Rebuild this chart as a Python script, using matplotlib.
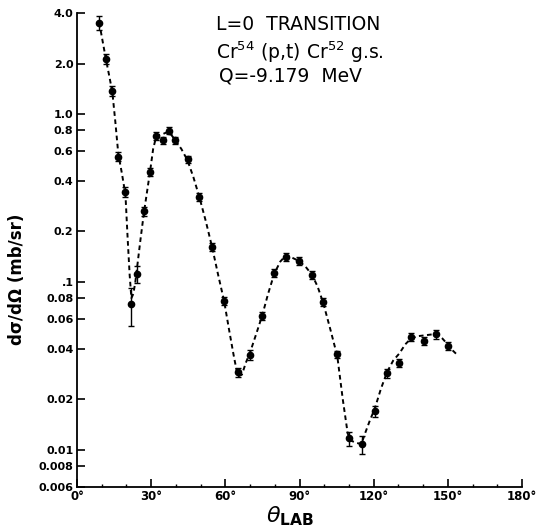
import matplotlib as mpl
mpl.use('Agg')
import matplotlib.pyplot as plt
from matplotlib.ticker import FixedLocator, NullLocator

# measured points: angle (deg), cross section (mb/sr), error
theta = [9.0, 11.7, 14.3, 16.7, 19.6, 21.9, 24.4, 27.1, 29.6, 32.0, 34.7, 37.2,
         39.7, 44.7, 49.5, 54.7, 59.5, 65.2, 70.0, 74.9, 79.8, 84.6, 89.9, 95.1,
         99.6, 105.3, 110.1, 115.3, 120.4, 125.4, 130.4, 135.1, 140.4, 145.3, 150.2]
sigma = [3.50, 2.13, 1.37, 0.557, 0.344, 0.0734, 0.111, 0.264, 0.453, 0.74, 0.70, 0.796,
         0.70, 0.537, 0.321, 0.161, 0.0769, 0.029, 0.0366, 0.0625, 0.113, 0.141, 0.133, 0.110,
         0.0759, 0.0370, 0.0117, 0.0108, 0.0170, 0.0285, 0.0330, 0.0470, 0.0446, 0.0487, 0.0415]
err = [0.35, 0.15, 0.09, 0.035, 0.025, 0.0185, 0.013, 0.016, 0.025, 0.04, 0.035, 0.04,
       0.035, 0.025, 0.016, 0.009, 0.004, 0.0017, 0.0025, 0.0035, 0.006, 0.007, 0.007, 0.006,
       0.004, 0.002, 0.0011, 0.0013, 0.0013, 0.0017, 0.0019, 0.0027, 0.0025, 0.0028, 0.0024]

# dashed curve
curve_theta = [9.0, 10.3, 11.7, 13.0, 14.3, 15.5, 16.7, 18.2, 19.6, 20.5, 21.3, 22.0,
               22.8, 23.6, 24.4, 25.7, 27.1, 28.4, 29.6, 30.8, 32.0, 33.3, 34.7, 36.0,
               37.2, 38.5, 39.7, 42.2, 44.7, 47.1, 49.5, 52.1, 54.7, 57.1, 59.5, 61.5,
               63.3, 64.5, 65.5, 66.7, 68.3, 70.0, 72.5, 74.9, 77.3, 79.8, 82.2, 84.6,
               87.2, 89.9, 92.5, 95.1, 97.3, 99.6, 102.5, 105.3, 107.5, 109.5, 111.0, 113.0,
               115.0, 116.5, 118.5, 120.4, 122.9, 125.4, 127.9, 130.4, 132.8, 135.1, 137.8,
               140.4, 142.8, 145.3, 147.8, 150.2, 152.0, 153.6]
curve_sigma = [3.5, 2.75, 2.12, 1.7, 1.35, 0.9, 0.58, 0.44, 0.33, 0.18, 0.11, 0.08,
               0.085, 0.10, 0.125, 0.18, 0.26, 0.35, 0.46, 0.62, 0.73, 0.75, 0.76, 0.775,
               0.78, 0.74, 0.70, 0.62, 0.53, 0.42, 0.32, 0.23, 0.16, 0.11, 0.077, 0.052,
               0.037, 0.030, 0.0275, 0.028, 0.033, 0.038, 0.049, 0.063, 0.085, 0.112, 0.132, 0.1445,
               0.139, 0.133, 0.123, 0.110, 0.094, 0.075, 0.052, 0.036, 0.020, 0.0125, 0.0113, 0.011,
               0.0108, 0.0125, 0.0150, 0.0175, 0.023, 0.029, 0.034, 0.0375, 0.0425, 0.046, 0.0475,
               0.048, 0.0485, 0.049, 0.046, 0.042, 0.039, 0.037]

yticks = [4.0, 2.0, 1.0, 0.8, 0.6, 0.4, 0.2, 0.1, 0.08, 0.06, 0.04, 0.02, 0.01, 0.008, 0.006]
ylabels = ['4.0', '2.0', '1.0', '0.8', '0.6', '0.4', '0.2', '.1', '0.08', '0.06',
           '0.04', '0.02', '0.01', '0.008', '0.006']
xticks = [0, 30, 60, 90, 120, 150, 180]
xlabels = ['0°', '30°', '60°', '90°', '120°', '150°', '180°']

W, H = 542, 531
fig = plt.figure(figsize=(W / 100, H / 100), dpi=100)
ax = fig.add_axes([77 / W, 1 - 487 / H, 445 / W, 474 / H])

ax.plot(curve_theta, curve_sigma, color='black', lw=1.4, dashes=(2.4, 1.8))
ax.errorbar(theta, sigma, yerr=err, fmt='o', color='black', ms=4.5,
            elinewidth=1.0, capsize=2, capthick=1.0)

ax.set_yscale('log')
ax.set_xlim(0, 180)
ax.set_ylim(0.006, 4.0)

ax.yaxis.set_major_locator(FixedLocator(yticks))
ax.yaxis.set_minor_locator(NullLocator())
ax.set_yticklabels(ylabels, fontsize=8, fontweight='bold')
ax.set_xticks(xticks)
ax.set_xticklabels(xlabels, fontsize=8.5, fontweight='bold')
ax.set_xticks(range(10, 180, 10), minor=True)

ax.tick_params(axis='both', which='major', direction='in', length=6, width=1.2, pad=2.5)
ax.tick_params(axis='x', which='minor', direction='in', length=2.5, width=1.0)

for s in ['top', 'right']:
    ax.spines[s].set_visible(False)
for s in ['left', 'bottom']:
    ax.spines[s].set_linewidth(1.3)

fig.text(216 / W, 1 - 25 / H, 'L=0  TRANSITION', fontsize=13.5, va='center', ha='left')
fig.text(216 / W, 1 - 52 / H, 'Cr$^{54}$ (p,t) Cr$^{52}$ g.s.', fontsize=13.5, va='center', ha='left')
fig.text(219 / W, 1 - 76 / H, 'Q=-9.179  MeV', fontsize=13.5, va='center', ha='left')

fig.text(17 / W, 1 - 279 / H, 'dσ/dΩ (mb/sr)', fontsize=12, rotation=90,
         ha='center', va='center', fontweight='bold')
fig.text(290 / W, 1 - 516 / H, r'$\theta_{\mathbf{LAB}}$', fontsize=16,
         ha='center', va='center')

fig.savefig('out.png', dpi=100)
